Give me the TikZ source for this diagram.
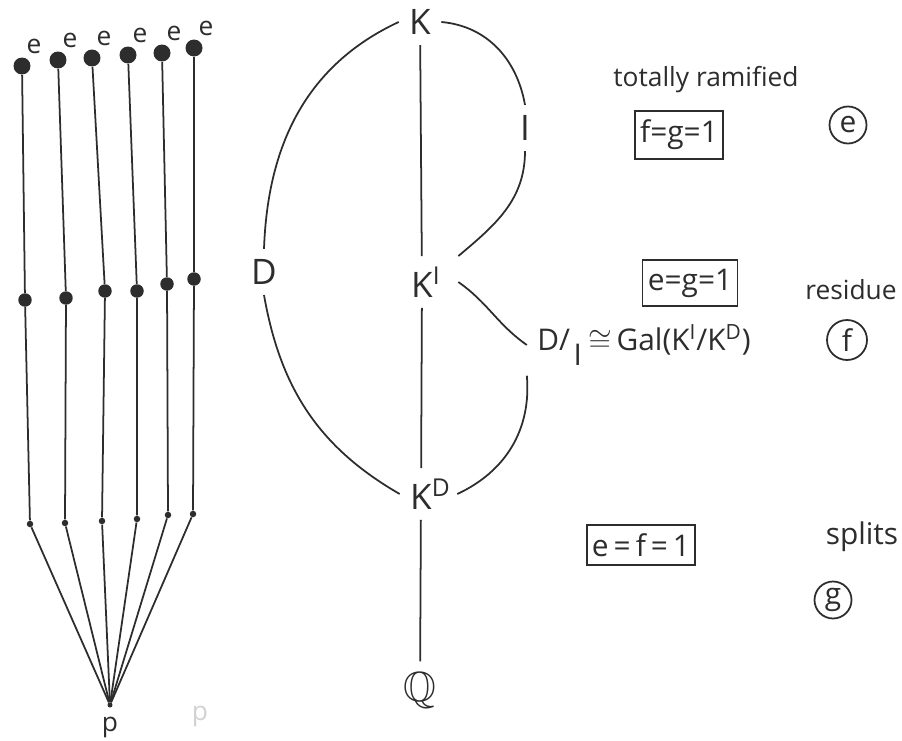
\documentclass[tikz,border=0pt]{standalone}
\usepackage{fontspec}
\setmainfont{Open Sans}
\usepackage{amssymb}
\usetikzlibrary{positioning}
\definecolor{pencil}{RGB}{45,45,45}

\begin{document}
\begin{tikzpicture}[
  x=0.02cm, y=-0.02cm,
  wire/.style={draw=pencil, line width=1pt},
  bigdot/.style={circle, fill=pencil, inner sep=0pt, minimum size=0.34cm},
  middot/.style={circle, fill=pencil, inner sep=0pt, minimum size=0.27cm},
  smalldot/.style={circle, fill=pencil, inner sep=0pt, minimum size=0.13cm},
  field/.style={font=\fontsize{20}{24}\selectfont, text=pencil, inner sep=2pt, outer sep=4pt},
  note/.style={font=\fontsize{15}{18}\selectfont, text=pencil},
  cond/.style={draw=pencil, line width=1pt, font=\fontsize{17}{20}\selectfont, text=pencil, inner xsep=3pt, inner ysep=5pt},
  letter/.style={circle, draw=pencil, line width=1pt, font=\fontsize{17}{20}\selectfont, text=pencil, inner sep=1pt, minimum size=0.74cm},
]
  \useasboundingbox[fill=white] (0,0) rectangle (902,740);

  % primes above p
  \node[smalldot, minimum size=0.1cm] (p) at (110,705) {};
  \node[note] (plabel) at (110,727) {p};
  \node[note, text=gray!35] (pghost) at (200,716) {p};
  \foreach \i/\tx/\ty/\mx/\my/\bx/\by in {1/22/66/25/300/30/524, 2/58/60/66/298/65/523,
      3/92/58/105/291/102/521, 4/128/55/137/291/137/519,
      5/162/53/167/284/168/515, 6/194/48/194/279/193/514} {
    \node[bigdot] (t\i) at (\tx,\ty) {};
    \node[middot] (m\i) at (\mx,\my) {};
    \node[smalldot] (b\i) at (\bx,\by) {};
    \node[note] (e\i) at (\tx+12,\ty-20) {e};
    \draw[wire] (t\i) -- (m\i) -- (b\i) -- (p);
  }

  % tower of fields
  \node[field] (K) at (420,22) {K};
  \node[field] (KI) at (422,282) {K\rlap{\textsuperscript{I}}};
  \node[field] (KD) at (421,494) {K\rlap{\textsuperscript{D}}};
  \node[field, font=\fontsize{24}{28}\selectfont] (Q) at (420,690) {$\mathbb{Q}$};
  \node[field] (D) at (264,272) {D};
  \node[field] (I) at (525,128) {I};
  \node[field, font=\fontsize{17}{20}\selectfont] (quot) at (644,345)
    {D/\kern0.12em\raisebox{-0.9ex}{I}\kern0.2em$\cong$\,Gal(K\textsuperscript{I}/K\textsuperscript{D})};

  \draw[wire] (K) -- (KI);
  \draw[wire] (KI) -- (KD);
  \draw[wire] (KD) -- (Q);

  \draw[wire] (K.west) to[out=205, in=88] (D.north);
  \draw[wire] (D.south) to[out=-80, in=150] (KD.west);
  \draw[wire] (K.east) to[out=-5, in=100] (I.north);
  \draw[wire] (I.south) to[out=-90, in=40] ([xshift=0.3cm]KI.north east);
  \draw[wire] ([xshift=0.3cm]KI.east) to[out=-35, in=145] (quot.west);
  \draw[wire] (quot.south west) to[out=-85, in=25] ([xshift=0.3cm]KD.east);

  % e, f, g
  \node[note] (ramified) at (706,80) {totally ramified};
  \node[cond] (fg) at (679,135) {f=g=1};
  \node[letter] (ecirc) at (848,125) {e};
  \node[cond] (eg) at (690,283) {e=g=1};
  \node[note] (residue) at (851,290) {residue};
  \node[letter, minimum size=0.8cm] (fcirc) at (847,340) {f};
  \node[cond] (ef) at (641,545) {e\,=\,f\,=\,1};
  \node[note, font=\fontsize{17}{20}\selectfont] (splits) at (862,537) {splits};
  \node[letter] (gcirc) at (833,600) {g};
\end{tikzpicture}
\end{document}
